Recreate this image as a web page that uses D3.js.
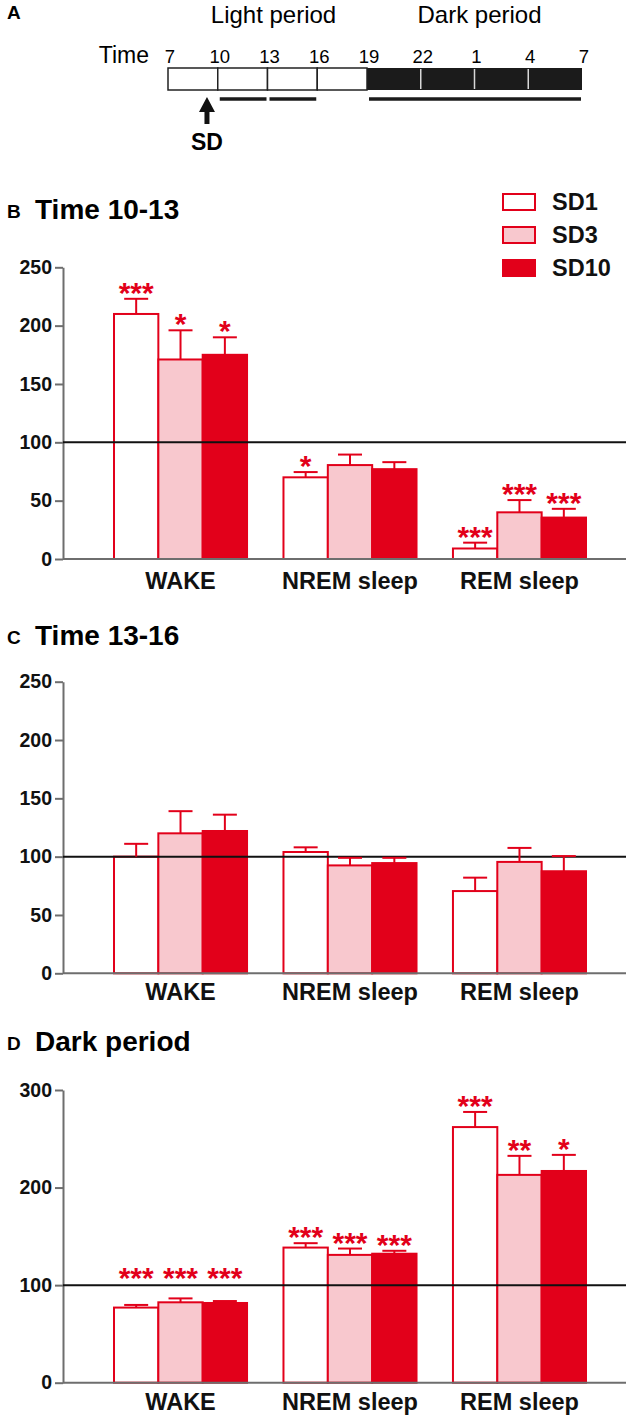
<!DOCTYPE html>
<html>
<head>
<meta charset="utf-8">
<script src="https://cdn.jsdelivr.net/npm/d3@7"></script>
<style>
  html, body { margin: 0; padding: 0; background: #ffffff; }
  svg { display: block; font-family: "Liberation Sans", Arial, Helvetica, sans-serif; }
</style>
</head>
<body>
<svg id="chart" width="630" height="1419"></svg>
<script>
// ---------------- DATA ----------------
const categories = ["WAKE", "NREM sleep", "REM sleep"];
const seriesNames = ["SD1", "SD3", "SD10"];

// Panel A: time line
const timeHours = [7, 10, 13, 16, 19, 22, 25, 28, 31];
const timeLabels = ["7", "10", "13", "16", "19", "22", "1", "4", "7"];
const periodNames = ["Light period", "Dark period"];
const recordWindows = [[10, 13], [13, 16], [19, 31]];
const sdTime = 9.35;

// Panel B: Time 10-13
const bTicks = [0, 50, 100, 150, 200, 250];
const bSD1 = [210, 70, 9];
const bSD1Err = [13, 4.5, 5];
const bSD3 = [171, 80.5, 40];
const bSD3Err = [25, 9, 10.5];
const bSD10 = [175, 77, 35.5];
const bSD10Err = [15, 6, 7.5];
const bSD1Stars = ["***", "*", "***"];
const bSD3Stars = ["*", "", "***"];
const bSD10Stars = ["*", "", "***"];

// Panel C: Time 13-16
const cTicks = [0, 50, 100, 150, 200, 250];
const cSD1 = [100, 104, 70.5];
const cSD1Err = [11, 4, 11.5];
const cSD3 = [120, 92.5, 95.5];
const cSD3Err = [19, 6.5, 12];
const cSD10 = [122, 94.5, 87.5];
const cSD10Err = [14, 4.5, 13];

// Panel D: Dark period
const dTicks = [0, 100, 200, 300];
const dSD1 = [77, 138.5, 262];
const dSD1Err = [2.7, 4.5, 15.5];
const dSD3 = [82.4, 131, 213];
const dSD3Err = [4, 6.5, 19.5];
const dSD10 = [81.7, 132.2, 217];
const dSD10Err = [2, 3, 16.5];
const dSD1Stars = ["***", "***", "***"];
const dSD3Stars = ["***", "***", "**"];
const dSD10Stars = ["***", "***", "*"];

// ---------------- STYLE ----------------
const RED = "#e2001a";
const PINK = "#f8c8ce";
const fills = [ "#ffffff", PINK, RED ];
const AXIS = "#6e6e6e";

const svg = d3.select("#chart");

// ---------------- PANEL A ----------------
(function panelA() {
  const g = svg.append("g");
  const x = d3.scaleLinear().domain([7, 19, 31]).range([168, 367, 582]);
  g.append("text").attr("x", 7).attr("y", 19).attr("font-size", 19).attr("font-weight", "bold").text("A");
  g.append("text").attr("x", (x(7) + x(19)) / 2 + 6).attr("y", 23).attr("text-anchor", "middle")
    .attr("font-size", 24).text(periodNames[0]);
  g.append("text").attr("x", (x(19) + x(31)) / 2 + 5).attr("y", 23).attr("text-anchor", "middle")
    .attr("font-size", 24).text(periodNames[1]);
  g.append("text").attr("x", 149).attr("y", 63).attr("text-anchor", "end").attr("font-size", 23).text("Time");
  g.selectAll("text.tl").data(timeHours).join("text").attr("class", "tl")
    .attr("x", d => x(d) + 2).attr("y", 63).attr("text-anchor", "middle").attr("font-size", 18.5)
    .text((d, i) => timeLabels[i]);
  const cells = d3.pairs(timeHours);
  const boxTop = 68, boxH = 22;
  g.append("rect").attr("x", x(19)).attr("y", boxTop).attr("width", x(31) - x(19)).attr("height", boxH)
    .attr("fill", "#1b1b1b");
  cells.forEach(([a, b]) => {
    if (b <= 19) {
      g.append("rect").attr("x", x(a)).attr("y", boxTop).attr("width", x(b) - x(a)).attr("height", boxH)
        .attr("fill", "#fff").attr("stroke", "#222").attr("stroke-width", 1.5);
    } else if (a > 19) {
      g.append("line").attr("x1", x(a)).attr("x2", x(a)).attr("y1", boxTop + 1).attr("y2", boxTop + boxH - 1)
        .attr("stroke", "#d8d8d8").attr("stroke-width", 1.5);
    }
  });
  recordWindows.forEach(([a, b]) => {
    g.append("line").attr("x1", x(a) + 2).attr("x2", x(b) - 1).attr("y1", 99).attr("y2", 99)
      .attr("stroke", "#1b1b1b").attr("stroke-width", 3.5);
  });
  const ax = x(sdTime);
  g.append("path")
    .attr("d", `M${ax},97 L${ax + 8},112 L${ax + 2.5},112 L${ax + 2.5},124 L${ax - 2.5},124 L${ax - 2.5},112 L${ax - 8},112 Z`)
    .attr("fill", "#111");
  g.append("text").attr("x", ax).attr("y", 150).attr("text-anchor", "middle").attr("font-size", 23)
    .attr("font-weight", "bold").text("SD");
})();

// ---------------- BAR PANELS ----------------
function barPanel(cfg) {
  const g = svg.append("g");
  const y = d3.scaleLinear().domain([0, cfg.max]).range([cfg.bottom, cfg.top]);
  const x0 = d3.scaleBand().domain(categories).range([114, 586]).paddingInner(0.215).paddingOuter(0);
  const x1 = d3.scaleBand().domain(seriesNames).range([0, x0.bandwidth()]).padding(0);
  const axisX = 63, rightX = 626;

  g.append("text").attr("x", 7).attr("y", cfg.titleY).attr("font-size", 19).attr("font-weight", "bold").text(cfg.letter);
  g.append("text").attr("x", 35).attr("y", cfg.titleY + 1).attr("font-size", 28).attr("font-weight", "bold").text(cfg.title);

  const data = [];
  cfg.values.forEach((vals, si) => {
    vals.forEach((v, ci) => {
      data.push({ cat: categories[ci], s: seriesNames[si], si, v, e: cfg.errs[si][ci],
                  star: cfg.stars ? cfg.stars[si][ci] : "" });
    });
  });
  g.selectAll("rect.bar").data(data).join("rect").attr("class", "bar")
    .attr("x", d => x0(d.cat) + x1(d.s))
    .attr("y", d => y(d.v))
    .attr("width", x1.bandwidth())
    .attr("height", d => y(0) - y(d.v))
    .attr("fill", d => fills[d.si])
    .attr("stroke", RED).attr("stroke-width", 2);

  const yAxis = d3.axisLeft(y).tickValues(cfg.ticks).tickSize(8).tickSizeOuter(0).tickPadding(3);
  const ya = g.append("g").attr("transform", `translate(${axisX},0)`).call(yAxis);
  ya.select(".domain").attr("stroke", AXIS).attr("stroke-width", 2);
  ya.selectAll(".tick line").attr("stroke", AXIS).attr("stroke-width", 2);
  ya.selectAll(".tick text").attr("font-size", 19.5).attr("font-weight", "bold").attr("fill", "#111")
    .attr("font-family", "Liberation Sans, Arial, sans-serif");

  g.append("line").attr("x1", axisX).attr("x2", rightX).attr("y1", y(0)).attr("y2", y(0))
    .attr("stroke", AXIS).attr("stroke-width", 2);
  const xAxis = d3.axisBottom(x0).tickSize(0).tickPadding(cfg.labelGap);
  const xa = g.append("g").attr("transform", `translate(0,${y(0)})`).call(xAxis);
  xa.select(".domain").remove();
  xa.selectAll(".tick text").attr("font-size", 23.5).attr("font-weight", "bold").attr("fill", "#111")
    .attr("font-family", "Liberation Sans, Arial, sans-serif").attr("dy", 0);

  g.append("line").attr("x1", axisX).attr("x2", rightX).attr("y1", y(100)).attr("y2", y(100))
    .attr("stroke", "#111").attr("stroke-width", 2);

  const cap = 12;
  data.forEach(d => {
    const cx = x0(d.cat) + x1(d.s) + x1.bandwidth() / 2;
    g.append("line").attr("x1", cx).attr("x2", cx).attr("y1", y(d.v)).attr("y2", y(d.v + d.e))
      .attr("stroke", RED).attr("stroke-width", 2);
    g.append("line").attr("x1", cx - cap).attr("x2", cx + cap).attr("y1", y(d.v + d.e)).attr("y2", y(d.v + d.e))
      .attr("stroke", RED).attr("stroke-width", 2);
    if (d.star) {
      let by = y(d.v + d.e) + 4;
      if (cfg.starFloor != null) by = Math.min(by, y(cfg.starFloor) + 3);
      g.append("text").attr("x", cx).attr("y", by).attr("text-anchor", "middle")
        .attr("font-size", 30).attr("font-weight", "bold").attr("fill", RED).text(d.star);
    }
  });

  if (cfg.legend) {
    seriesNames.forEach((s, i) => {
      g.append("rect").attr("x", 503).attr("y", 194 + i * 33).attr("width", 32).attr("height", 16)
        .attr("fill", fills[i]).attr("stroke", RED).attr("stroke-width", 2);
      g.append("text").attr("x", 552).attr("y", 210 + i * 33).attr("font-size", 23.5).attr("font-weight", "bold")
        .attr("fill", "#111").text(s);
    });
  }
}

barPanel({ letter: "B", title: "Time 10-13", titleY: 218, top: 267.3, bottom: 559, max: 250, ticks: bTicks,
  values: [bSD1, bSD3, bSD10], errs: [bSD1Err, bSD3Err, bSD10Err], stars: [bSD1Stars, bSD3Stars, bSD10Stars],
  legend: true, labelGap: 30, starFloor: null });

barPanel({ letter: "C", title: "Time 13-16", titleY: 644, top: 681.7, bottom: 973.3, max: 250, ticks: cTicks,
  values: [cSD1, cSD3, cSD10], errs: [cSD1Err, cSD3Err, cSD10Err], stars: null,
  legend: false, labelGap: 27, starFloor: null });

barPanel({ letter: "D", title: "Dark period", titleY: 1050, top: 1090, bottom: 1382.7, max: 300, ticks: dTicks,
  values: [dSD1, dSD3, dSD10], errs: [dSD1Err, dSD3Err, dSD10Err], stars: [dSD1Stars, dSD3Stars, dSD10Stars],
  legend: false, labelGap: 27, starFloor: 100 });
</script>
</body>
</html>
